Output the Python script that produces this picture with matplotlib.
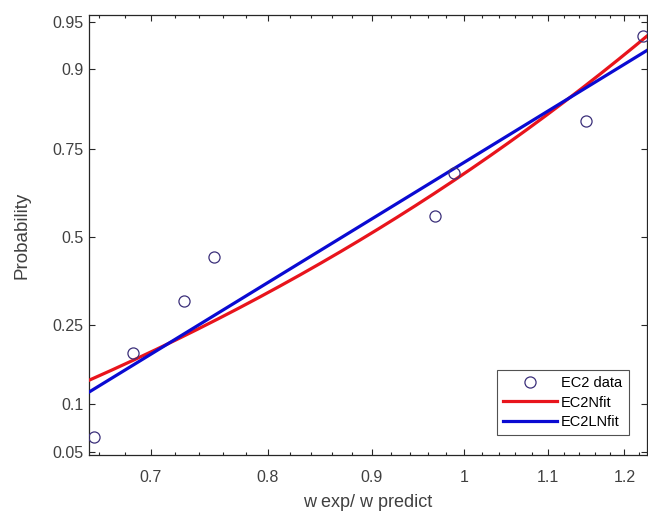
import math
import numpy as np
import matplotlib
matplotlib.use("Agg")
import matplotlib.pyplot as plt
from matplotlib.ticker import FixedLocator, FixedFormatter, NullFormatter

# ---- data ----
ec2_data = [0.656, 0.686, 0.727, 0.752, 0.967, 0.988, 1.149, 1.2255]
y_ticks = [0.05, 0.1, 0.25, 0.5, 0.75, 0.9, 0.95]
y_tick_labels = ["0.05", "0.1", "0.25", "0.5", "0.75", "0.9", "0.95"]
x_ticks = [0.7, 0.8, 0.9, 1.0, 1.1, 1.2]
x_tick_labels = ["0.7", "0.8", "0.9", "1", "1.1", "1.2"]
x_limits = (0.6526, 1.2305)
p_limits = (0.0473, 0.9553)

# ---- normal distribution helpers (no scipy) ----
_erf = np.vectorize(math.erf, otypes=[float])

def norm_cdf(z):
    z = np.asarray(z, dtype=float)
    return 0.5 * (1.0 + _erf(z / math.sqrt(2.0)))

def _ppf_scalar(p):
    if not (p > 0):
        return -8.0
    if p >= 1:
        return 8.0
    lo, hi = -8.0, 8.0
    for _ in range(70):
        mid = 0.5 * (lo + hi)
        if 0.5 * (1 + math.erf(mid / math.sqrt(2))) < p:
            lo = mid
        else:
            hi = mid
    return 0.5 * (lo + hi)

_ppf_vec = np.vectorize(_ppf_scalar, otypes=[float])

def norm_ppf(p):
    p = np.asarray(p, dtype=float)
    return _ppf_vec(p)

# ---- fits (normal and lognormal, as in MATLAB fitdist) ----
x = np.sort(np.array(ec2_data))
n = len(x)
pp = (np.arange(1, n + 1) - 0.5) / n
mu_n, sd_n = x.mean(), x.std(ddof=1)
lx = np.log(x)
mu_ln, sd_ln = lx.mean(), lx.std(ddof=1)

xg = np.exp(np.linspace(np.log(x_limits[0]), np.log(x_limits[1]), 300))
p_norm = norm_cdf((xg - mu_n) / sd_n)
p_lognorm = norm_cdf((np.log(xg) - mu_ln) / sd_ln)

# ---- figure ----
plt.rcParams['font.family'] = ['Liberation Sans', 'DejaVu Sans']
fig = plt.figure(figsize=(6.48, 5.18), dpi=100)
ax = fig.add_axes([89 / 648, 1 - 455 / 518, (646.5 - 89) / 648, (455 - 15) / 518])

ax.set_xscale('log')
ax.set_yscale('function', functions=(norm_ppf, norm_cdf))

dark = '#262626'
ax.plot(x, pp, linestyle='none', marker='o', markersize=8, markerfacecolor='none',
        markeredgecolor='#3b2f7a', markeredgewidth=0.9, label='EC2 data', zorder=4)
ax.plot(xg, p_norm, color='#e8141c', linewidth=2.3, label='EC2Nfit', zorder=3)
ax.plot(xg, p_lognorm, color='#0a0ad2', linewidth=2.3, label='EC2LNfit', zorder=3)

ax.set_xlim(*x_limits)
ax.set_ylim(*p_limits)

ax.xaxis.set_major_locator(FixedLocator(x_ticks))
ax.xaxis.set_major_formatter(FixedFormatter(x_tick_labels))
ax.xaxis.set_minor_locator(FixedLocator(np.round(np.arange(0.66, 1.23, 0.02), 2)))
ax.xaxis.set_minor_formatter(NullFormatter())
ax.yaxis.set_major_locator(FixedLocator(y_ticks))
ax.yaxis.set_major_formatter(FixedFormatter(y_tick_labels))
ax.yaxis.set_minor_locator(FixedLocator([]))

ax.tick_params(which='both', direction='in', top=True, right=True, colors=dark,
               labelcolor='#404040', labelsize=11.5, width=0.8)
ax.tick_params(which='major', length=4)
ax.tick_params(which='minor', length=2)
ax.tick_params(axis='x', pad=11)
ax.tick_params(axis='y', pad=4)
for s in ax.spines.values():
    s.set_color(dark)
    s.set_linewidth(0.9)

ax.set_xlabel('w exp/ w predict', fontsize=13, color='#404040', labelpad=6)
ax.set_ylabel('Probability', fontsize=13.5, color='#404040', labelpad=16)

leg = ax.legend(loc='lower right', bbox_to_anchor=(0.968, 0.045), fontsize=10.5,
                frameon=True, fancybox=False, edgecolor=dark, handlelength=3.7,
                borderpad=0.45, labelspacing=0.35, handletextpad=0.25, borderaxespad=0)
leg.get_frame().set_linewidth(0.8)

fig.savefig('out.png', dpi=100)
